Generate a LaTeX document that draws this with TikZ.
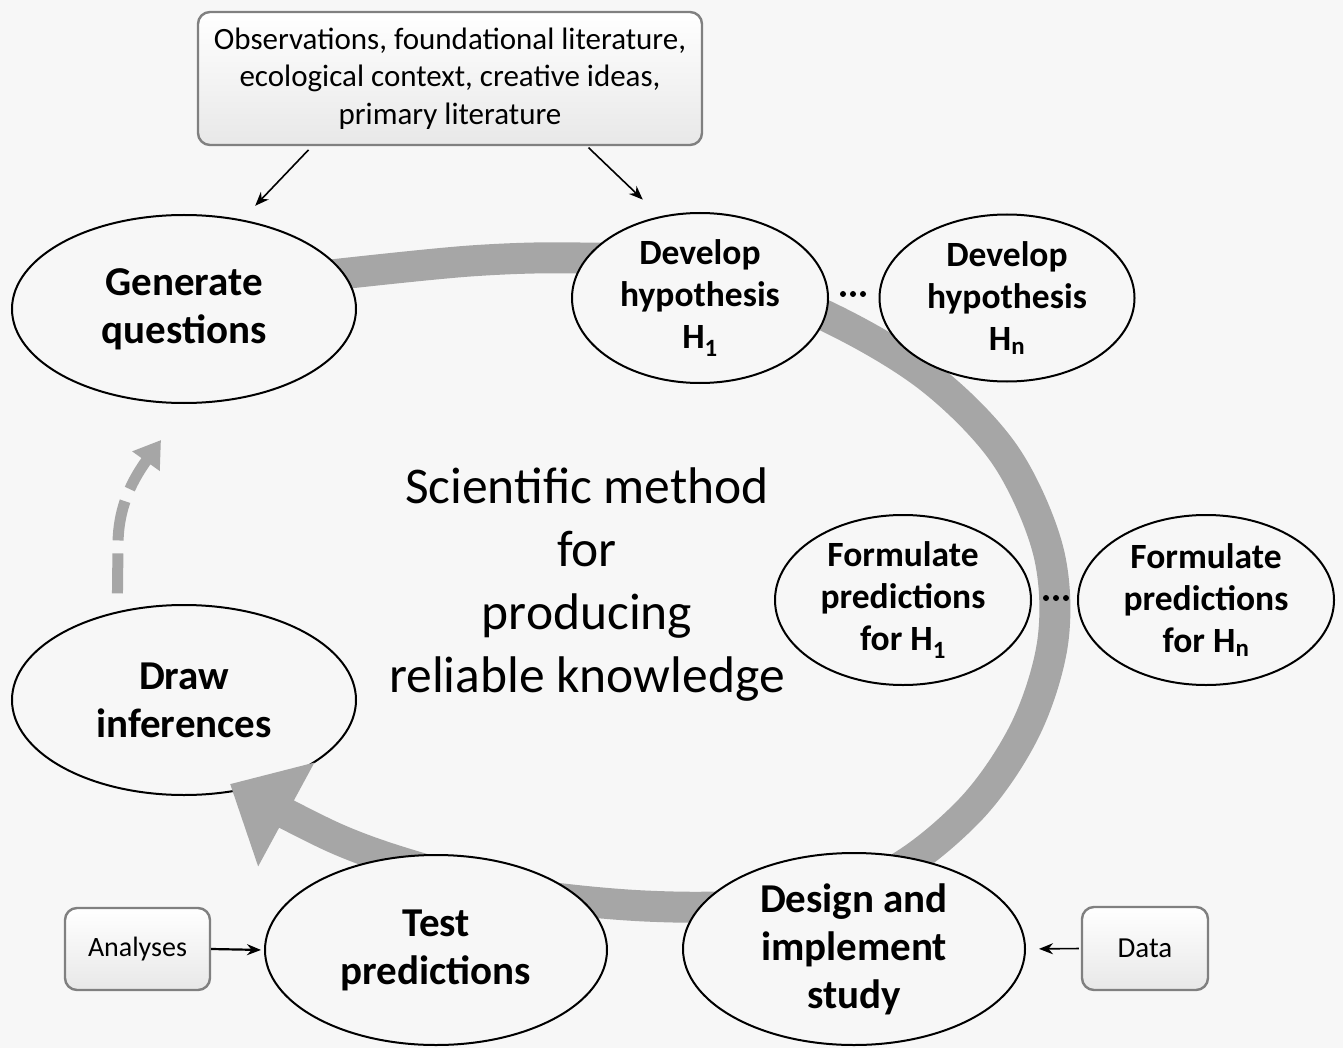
\documentclass[tikz,border=0pt]{standalone}
\usepackage{fontspec}
\setmainfont{Carlito}
\usetikzlibrary{shapes.geometric,arrows.meta,calc}
\definecolor{bgcol}{HTML}{F7F7F7}
\definecolor{bandgray}{HTML}{A6A6A6}
\definecolor{boxline}{HTML}{808080}
\definecolor{boxfill}{HTML}{E8E8E8}
\begin{document}
\begin{tikzpicture}[x=1pt,y=-1pt,
  ell/.style={ellipse, draw=black, line width=2pt, fill=bgcol, inner xsep=0pt, inner ysep=-20pt, align=center,
              font=\bfseries\fontsize{41}{48}\selectfont},
  ellsmall/.style={ell, font=\bfseries\fontsize{35.5}{42}\selectfont},
  srcbox/.style={rectangle, rounded corners=12pt, draw=boxline, line width=2.4pt, top color=white, bottom color=boxfill, align=center, inner sep=0pt},
  thinarrow/.style={-{Stealth[length=14pt,width=11pt]}, line width=1.6pt, draw=black},
  band/.style={line width=31pt, draw=bandgray, -{Triangle[length=64pt,width=114pt]}},
  dasharrow/.style={line width=11pt, draw=bandgray, dash pattern=on 40pt off 13pt, -{Triangle[length=26pt,width=32pt]}},
  dotmark/.style={fill=black}
]
\useasboundingbox (0,0) rectangle (1343,1048);
\fill[bgcol] (0,0) rectangle (1343,1048);

% Draw inferences (under the big arrowhead)
\node[ell, minimum width=344pt, minimum height=190pt] (di) at (184,700) {Draw\\inferences};

% big gray cycle band
\coordinate (bandstart) at (322,276);
\coordinate (bandtip) at (230,784);
\draw[band] plot[smooth, tension=0.55] coordinates {(bandstart) (470,261) (580,258) (700,266) (830,318) (930,378) (1005,455) (1048,550) (1053,640) (1025,730) (968,812) (880,878) (760,904) (645,906) (520,893) (420,868) (335,838) (bandtip)};

% ellipses
\node[ell, minimum width=344pt, minimum height=188pt] (gq) at (184,309) {Generate\\questions};
\node[ellsmall, minimum width=256pt, minimum height=170pt] (h1) at (700,298) {Develop\\hypothesis\\H\textsubscript{1}};
\node[ellsmall, minimum width=255pt, minimum height=167pt] (hn) at (1007,298) {Develop\\hypothesis\\H\textsubscript{n}};
\node[ellsmall, minimum width=256pt, minimum height=170pt] (f1) at (903,600) {Formulate\\predictions\\for H\textsubscript{1}};
\node[ellsmall, minimum width=256pt, minimum height=170pt] (fn) at (1206,600) {Formulate\\predictions\\for H\textsubscript{n}};
\node[ell, minimum width=342pt, minimum height=190pt] (tp) at (436,950) {Test\\predictions};
\node[ell, minimum width=342pt, minimum height=192pt] (ds) at (854,949) {Design and\\implement\\study};

% boxes
\node[srcbox, minimum width=504pt, minimum height=133pt, font=\fontsize{31}{37.5}\selectfont] (src) at (450,78.5)
  {Observations, foundational literature,\\ecological context, creative ideas,\\primary literature};
\node[srcbox, minimum width=145pt, minimum height=82pt, font=\fontsize{28}{30}\selectfont] (an) at (137.5,949) {Analyses};
\node[srcbox, minimum width=126pt, minimum height=83pt, font=\fontsize{29}{30}\selectfont] (data) at (1145,948.5) {Data};

% centre title
\node[font=\fontsize{51.5}{63}\selectfont, align=center] (title) at (587,585)
  {Scientific method\\for\\producing\\reliable knowledge};

% dots
\coordinate (dotsA) at (853,294);
\coordinate (dotsB) at (1056,598);
\foreach \c in {dotsA,dotsB}{
  \foreach \i in {-1,0,1}{
    \fill[dotmark] ($(\c)+(\i*10,0)$) circle (3pt);
  }
}

% dashed arrow
\coordinate (dashtip) at (161,440);
\draw[dasharrow, shorten <=18pt] (di.127) -- (118,545) .. controls (118,505) and (134,478) .. (dashtip);

% thin arrows
\draw[thinarrow, shorten <=5pt, shorten >=19pt] ([xshift=-138pt]src.south) -- (gq.57);
\draw[thinarrow, shorten <=2pt, shorten >=24pt] ([xshift=137pt]src.south) -- (h1.116);
\draw[thinarrow, line width=2.2pt, shorten >=3pt] (an.east) -- (tp.west);
\draw[thinarrow, shorten <=2pt, shorten >=13pt] (data.west) -- (ds.east);
\end{tikzpicture}
\end{document}
